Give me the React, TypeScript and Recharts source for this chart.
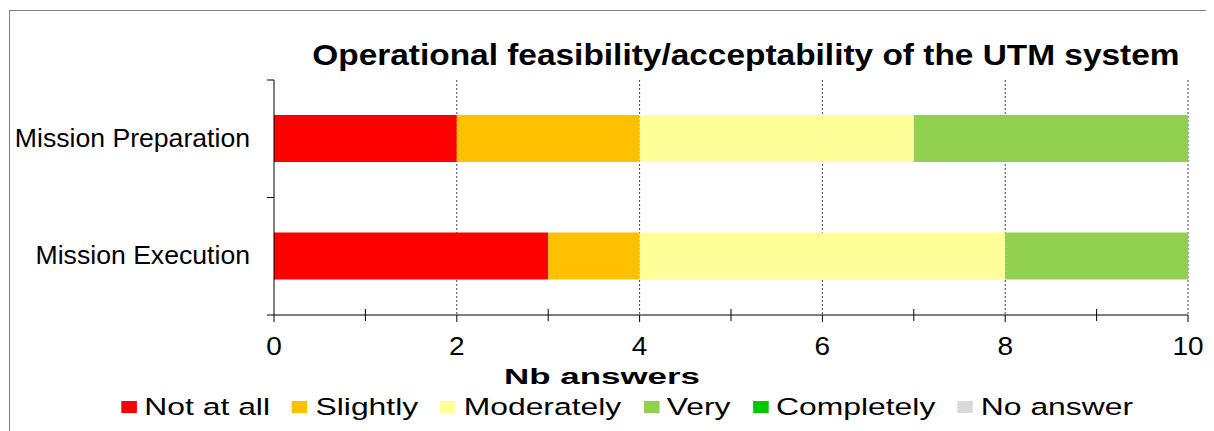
import React from "react";
import { BarChart, Bar, XAxis, YAxis, CartesianGrid, Legend } from "recharts";

const categories = ["Mission Preparation", "Mission Execution"];
const notAtAll = [2, 3];
const slightly = [2, 1];
const moderately = [3, 4];
const very = [3, 2];
const completely = [0, 0];
const noAnswer = [0, 0];

const seriesKeys = ["notAtAll", "slightly", "moderately", "very", "completely", "noAnswer"];
const seriesNames = ["Not at all", "Slightly", "Moderately", "Very", "Completely", "No answer"];
const seriesColors = ["#FF0000", "#FFC000", "#FFFF99", "#92D050", "#00C800", "#D9D9D9"];
const seriesValues = [notAtAll, slightly, moderately, very, completely, noAnswer];

const xTicks = [0, 1, 2, 3, 4, 5, 6, 7, 8, 9, 10];
const xLabelTicks = [0, 2, 4, 6, 8, 10];
const gridTicks = [2, 4, 6, 8, 10];
const xDomain = [0, 10];

const title = "Operational feasibility/acceptability of the UTM system";
const xAxisTitle = "Nb answers";

const data = categories.map((c, i) => {
  const row: Record<string, any> = { category: c };
  seriesKeys.forEach((k, j) => {
    row[k] = seriesValues[j][i];
  });
  return row;
});

const W = 1206;
const H = 423;
const MARGIN = { top: 72, right: 26, left: 0, bottom: 86 };
const X_AXIS_H = 30;
const Y_AXIS_W = 266;
const PLOT_H = H - MARGIN.top - MARGIN.bottom - X_AXIS_H;
const FONT = "'Liberation Sans', Arial, sans-serif";

const YTick = (props: any) => {
  const { x, y, payload, index } = props;
  const half = PLOT_H / categories.length / 2;
  const last = index === categories.length - 1;
  return (
    <g>
      <line x1={x - 7} x2={x} y1={y - half} y2={y - half} stroke="#000" strokeWidth={1} />
      {last && <line x1={x - 7} x2={x} y1={y + half} y2={y + half} stroke="#000" strokeWidth={1} />}
      <text
        x={0}
        y={0}
        textAnchor="end"
        fontSize={25}
        fontFamily={FONT}
        fill="#000"
        transform={`translate(${x - 24},${y + 8}) scale(1.065,1)`}
      >
        {payload.value}
      </text>
    </g>
  );
};

const XTick = (props: any) => {
  const { x, y, payload } = props;
  const v = payload.value;
  const labeled = xLabelTicks.includes(v);
  return (
    <g>
      {labeled ? (
        <line x1={x} x2={x} y1={y} y2={y + 7} stroke="#000" strokeWidth={1} />
      ) : (
        <line x1={x} x2={x} y1={y - 6} y2={y + 6} stroke="#000" strokeWidth={1} />
      )}
      {labeled && (
        <text
          x={0}
          y={0}
          textAnchor="middle"
          fontSize={25}
          fontFamily={FONT}
          fill="#000"
          transform={`translate(${x},${y + 40}) scale(1.12,1)`}
        >
          {v}
        </text>
      )}
    </g>
  );
};

const LegendContent = () => {
  return (
    <div
      style={{
        display: "flex",
        justifyContent: "center",
        alignItems: "center",
        transform: "translateX(16px) scaleX(1.3)",
        transformOrigin: "center",
        fontFamily: FONT,
        fontSize: 24.5,
        lineHeight: "28px",
        color: "#000",
      }}
    >
      {seriesNames.map((name, i) => (
        <div
          key={name}
          style={{ display: "flex", alignItems: "center", marginRight: i < seriesNames.length - 1 ? 17 : 0 }}
        >
          <div style={{ width: 12, height: 12, background: seriesColors[i], marginRight: 6 }} />
          <span style={{ whiteSpace: "nowrap" }}>{name}</span>
        </div>
      ))}
    </div>
  );
};

export default function App() {
  return (
    <div style={{ position: "relative", width: W, height: H, fontFamily: FONT }}>
      <div
        style={{
          position: "absolute",
          left: 1,
          top: 2,
          width: W - 1,
          height: H - 2,
          borderLeft: "1px solid #808080",
          borderTop: "1px solid #808080",
          boxSizing: "border-box",
        }}
      />
      <BarChart width={W} height={H} data={data} layout="vertical" margin={MARGIN} barSize={47}>
        <CartesianGrid
          horizontal={false}
          stroke="#444"
          strokeDasharray="2 2"
          verticalCoordinatesGenerator={({ offset }: any) =>
            gridTicks.map((t) => offset.left + (offset.width * (t - xDomain[0])) / (xDomain[1] - xDomain[0]))
          }
        />
        <XAxis
          type="number"
          domain={xDomain}
          ticks={xTicks}
          interval={0}
          height={X_AXIS_H}
          tickSize={0}
          tickMargin={0}
          tickLine={false}
          axisLine={{ stroke: "#000", strokeWidth: 1 }}
          tick={<XTick />}
        />
        <YAxis
          type="category"
          dataKey="category"
          width={Y_AXIS_W}
          tickSize={0}
          tickMargin={0}
          tickLine={false}
          axisLine={{ stroke: "#000", strokeWidth: 1 }}
          tick={<YTick />}
        />
        <Legend
          layout="horizontal"
          verticalAlign="middle"
          align="center"
          wrapperStyle={{ left: 0, top: 385, width: W }}
          content={<LegendContent />}
        />
        {seriesKeys.map((k, i) => (
          <Bar key={k} dataKey={k} name={seriesNames[i]} stackId="a" fill={seriesColors[i]} isAnimationActive={false} />
        ))}
      </BarChart>
      <div
        style={{
          position: "absolute",
          right: 34,
          top: 30,
          fontSize: 30,
          lineHeight: "34px",
          fontWeight: "bold",
          whiteSpace: "nowrap",
          transform: "scaleX(1.114)",
          transformOrigin: "right center",
          color: "#000",
        }}
      >
        {title}
      </div>
      <div
        style={{
          position: "absolute",
          left: 594,
          top: 356,
          fontSize: 22.5,
          lineHeight: "26px",
          fontWeight: "bold",
          whiteSpace: "nowrap",
          transform: "translateX(-50%) scaleX(1.55)",
          transformOrigin: "center",
          color: "#000",
        }}
      >
        {xAxisTitle}
      </div>
    </div>
  );
}
